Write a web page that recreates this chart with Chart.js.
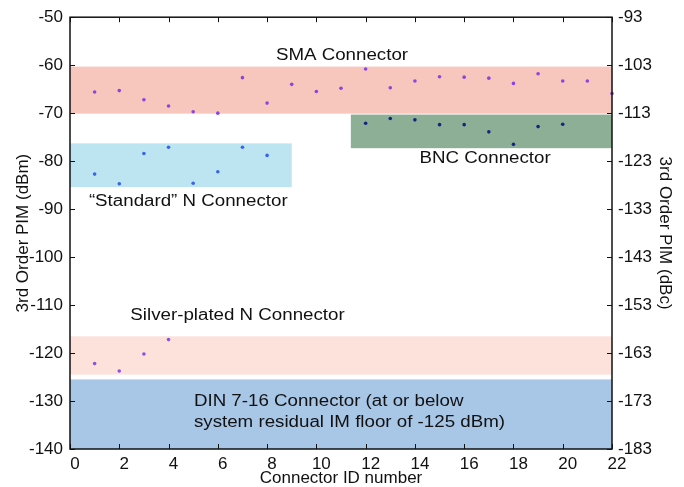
<!DOCTYPE html>
<html><head><meta charset="utf-8">
<script src="https://cdn.jsdelivr.net/npm/chart.js@4"></script>
<style>html,body{margin:0;padding:0;background:#fff}#wrap{width:684px;height:487px}</style>
</head><body><div id="wrap"><canvas id="c" width="684" height="487"></canvas></div>
<script>
// ---- data ----
const smaIds = [1,2,3,4,5,6,7,8,9,10,11,12,13,14,15,16,17,18,19,20,21,22];
const smaPim = [-65.6,-65.3,-67.2,-68.5,-69.7,-70.0,-62.6,-67.9,-64.0,-65.5,-64.8,-60.8,-64.7,-63.3,-62.4,-62.5,-62.7,-63.8,-61.8,-63.3,-63.3,-65.9];
const stdNIds = [1,2,3,4,5,6,7,8];
const stdNPim = [-82.7,-84.7,-78.4,-77.1,-84.6,-82.2,-77.1,-78.8];
const bncIds = [12,13,14,15,16,17,18,19,20];
const bncPim = [-72.1,-71.1,-71.4,-72.4,-72.4,-73.9,-76.5,-72.8,-72.3];
const silverIds = [1,2,3,4];
const silverPim = [-122.2,-123.75,-120.2,-117.2];

// bands (x from, x to, PIM top, PIM bottom)
const bandNames  = ['SMA','Standard N','BNC','Silver N','DIN 7-16'];
const bandXFrom  = [0, 0, 11.4, 0, 0];
const bandXTo    = [22, 9, 22, 22, 22];
const bandTop    = [-60.3, -76.3, -70.3, -116.5, -125.5];
const bandBottom = [-70.1, -85.4, -77.3, -124.5, -140];

// annotation texts
const noteTexts = [['SMA Connector'],['BNC Connector'],['\u201CStandard\u201D N Connector'],['Silver-plated N Connector'],['DIN 7-16 Connector (at or below','system residual IM floor of -125 dBm)']];
const noteX = [11.04, 16.85, 4.8, 6.8, 5.03];
const noteY = [-58.1, -79.4, -88.4, -112.2, -130.05];

const xMin = 0, xMax = 22, xStep = 2;
const yMin = -140, yMax = -50, yStep = 10;
const dbcOffset = -43; // right axis = left axis - 43

// ---- style ----
const bandColors = ['#f7c6bc','#bde5f1','#8daf96','#fde2dc','#a8c6e6'];
const noteAlign = ['center','center','center','center','left'];
const FONT = '"Liberation Sans", Arial, sans-serif';
const STRETCH = 1.17;

const bandsPlugin = {
  id:'bands',
  beforeDatasetsDraw(chart){
    const {ctx, scales:{x,y}} = chart;
    ctx.save();
    bandNames.forEach((n,i)=>{
      const x0 = x.getPixelForValue(bandXFrom[i]), x1 = x.getPixelForValue(bandXTo[i]);
      const y0 = y.getPixelForValue(bandTop[i]), y1 = y.getPixelForValue(bandBottom[i]);
      ctx.fillStyle = bandColors[i];
      ctx.fillRect(x0, y0, x1-x0, y1-y0);
    });
    ctx.fillStyle = '#111';
    ctx.font = '16px ' + FONT;
    ctx.textBaseline = 'middle';
    noteTexts.forEach((lines,i)=>{
      ctx.textAlign = noteAlign[i];
      const px = x.getPixelForValue(noteX[i]);
      const py = y.getPixelForValue(noteY[i]);
      lines.forEach((t,k)=>{
        ctx.save();
        ctx.translate(px, py + k*21);
        ctx.scale(STRETCH, 1);
        ctx.fillText(t, 0, 0);
        ctx.restore();
      });
    });
    ctx.restore();
  },
  afterDraw(chart){
    const {ctx, chartArea:a, scales:{x,y}} = chart;
    ctx.save();
    ctx.strokeStyle = '#111';
    ctx.lineWidth = 1.5;
    ctx.strokeRect(a.left, a.top, a.right-a.left, a.bottom-a.top);
    ctx.lineWidth = 1;
    ctx.beginPath();
    x.ticks.forEach(t=>{
      const px = Math.round(x.getPixelForValue(t.value))+0.5;
      ctx.moveTo(px, a.bottom); ctx.lineTo(px, a.bottom-5);
      ctx.moveTo(px, a.top); ctx.lineTo(px, a.top+5);
    });
    y.ticks.forEach(t=>{
      const py = Math.round(y.getPixelForValue(t.value))+0.5;
      ctx.moveTo(a.left, py); ctx.lineTo(a.left+5, py);
      ctx.moveTo(a.right, py); ctx.lineTo(a.right-5, py);
    });
    ctx.stroke();
    ctx.restore();
  }
};

const pts = (xs, ys) => xs.map((v,i)=>({x:v, y:ys[i]}));
const ds = (data, color) => ({data, backgroundColor:color, borderColor:color, pointRadius:1.8, pointBorderWidth:0, showLine:false, clip:false});

new Chart(document.getElementById('c'), {
  type:'scatter',
  data:{datasets:[
    ds(pts(smaIds, smaPim), '#8a46dc'),
    ds(pts(stdNIds, stdNPim), '#3a63ea'),
    ds(pts(bncIds, bncPim), '#16237f'),
    ds(pts(silverIds, silverPim), '#8a52e2')
  ]},
  options:{
    responsive:false, animation:false, devicePixelRatio:1,
    layout:{padding:{top:15,left:0,right:0,bottom:0}},
    plugins:{legend:{display:false}, tooltip:{enabled:false}},
    scales:{
      x:{type:'linear', min:xMin, max:xMax,
         ticks:{stepSize:xStep, color:'#111', font:{family:FONT,size:17}, padding:5, maxRotation:0, labelOffset:5},
         grid:{display:false, drawTicks:false}, border:{display:false},
         title:{display:true, text:'Connector ID number', color:'#111', font:{family:FONT,size:17}, padding:{top:0,bottom:-2}},
         afterFit(s){ s.height = 38; }},
      y:{type:'linear', position:'left', min:yMin, max:yMax,
         ticks:{stepSize:yStep, color:'#111', font:{family:FONT,size:17}, padding:7},
         grid:{display:false, drawTicks:false}, border:{display:false},
         title:{display:true, text:'3rd Order PIM (dBm)', color:'#111', font:{family:FONT,size:17}, padding:{top:13,bottom:0}},
         afterFit(s){ s.width = 70; }},
      y2:{type:'linear', position:'right', min:yMin+dbcOffset, max:yMax+dbcOffset,
         ticks:{stepSize:yStep, color:'#111', font:{family:FONT,size:17}, padding:6},
         grid:{display:false, drawTicks:false}, border:{display:false},
         title:{display:true, text:'3rd Order PIM (dBc)', color:'#111', font:{family:FONT,size:17}, padding:{top:9,bottom:0}},
         afterFit(s){ s.width = 72; }}
    }
  },
  plugins:[bandsPlugin]
});
</script></body></html>
